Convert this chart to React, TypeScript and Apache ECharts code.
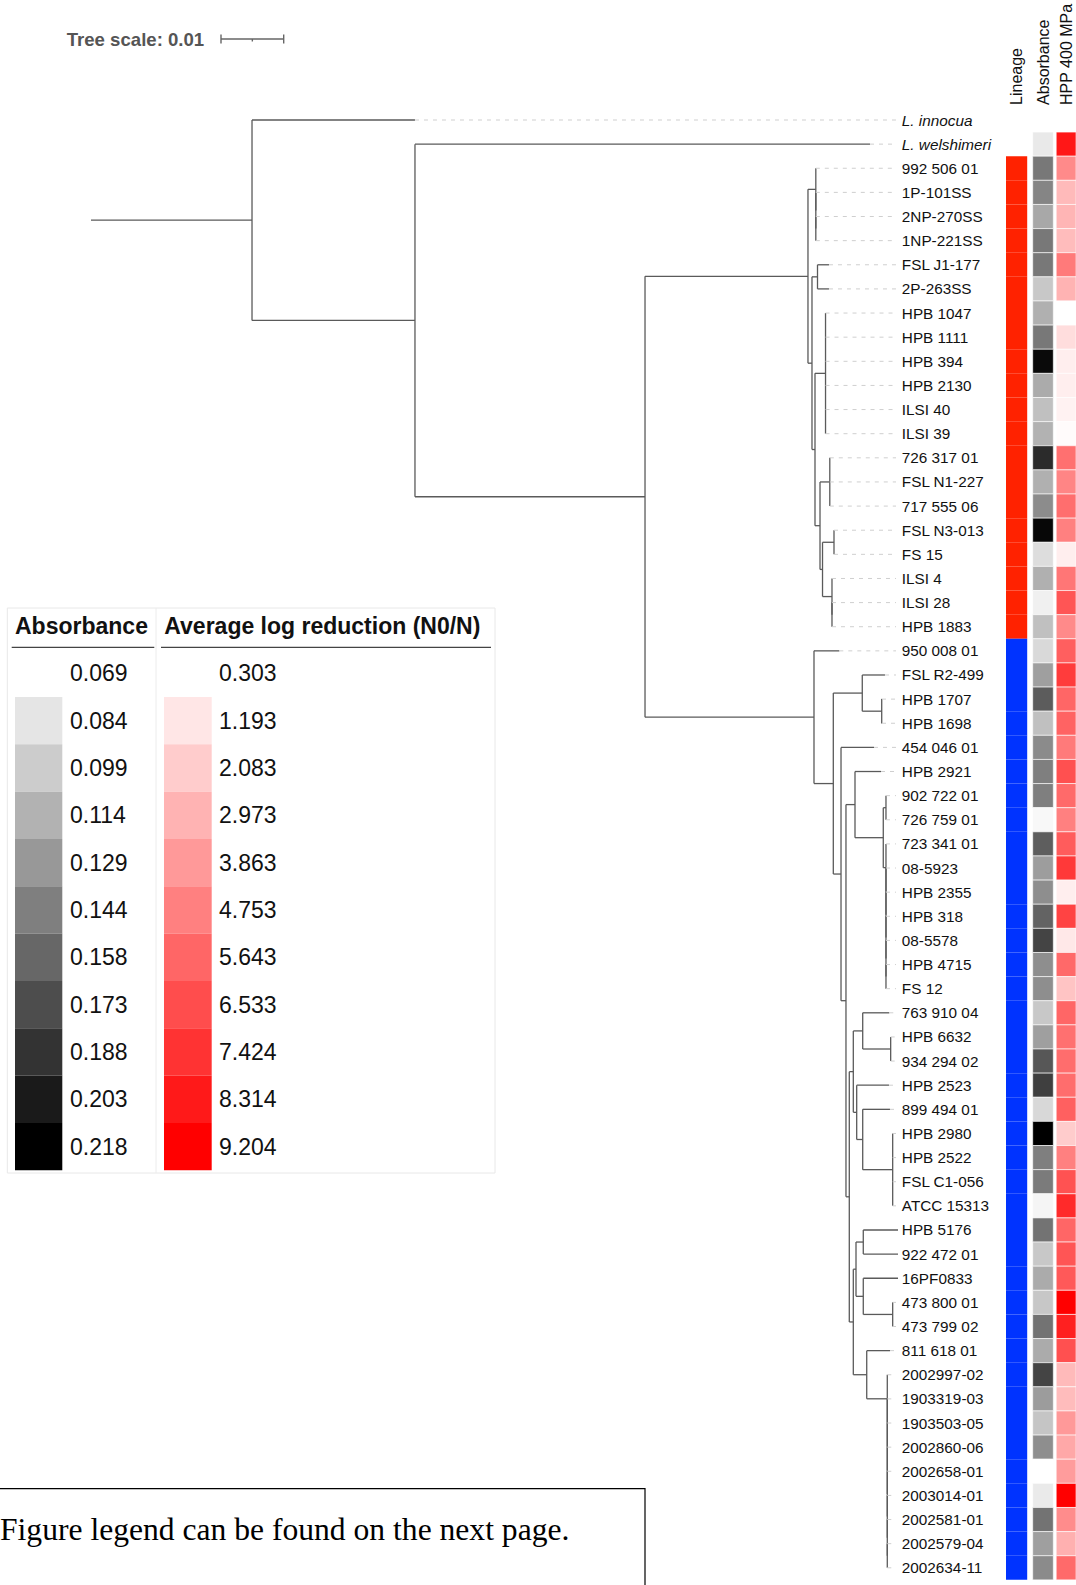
import React, { useEffect, useRef } from "react";
import * as echarts from "echarts";

const FONT = '"Liberation Sans", Arial, sans-serif';
const SERIF = '"Liberation Serif", "Times New Roman", serif';

// ---------- DATA ----------
const leafNames = [
  "L. innocua", "L. welshimeri", "992 506 01", "1P-101SS", "2NP-270SS", "1NP-221SS",
  "FSL J1-177", "2P-263SS", "HPB 1047", "HPB 1111", "HPB 394", "HPB 2130", "ILSI 40",
  "ILSI 39", "726 317 01", "FSL N1-227", "717 555 06", "FSL N3-013", "FS 15", "ILSI 4",
  "ILSI 28", "HPB 1883", "950 008 01", "FSL R2-499", "HPB 1707", "HPB 1698", "454 046 01",
  "HPB 2921", "902 722 01", "726 759 01", "723 341 01", "08-5923", "HPB 2355", "HPB 318",
  "08-5578", "HPB 4715", "FS 12", "763 910 04", "HPB 6632", "934 294 02", "HPB 2523",
  "899 494 01", "HPB 2980", "HPB 2522", "FSL C1-056", "ATCC 15313", "HPB 5176",
  "922 472 01", "16PF0833", "473 800 01", "473 799 02", "811 618 01", "2002997-02",
  "1903319-03", "1903503-05", "2002860-06", "2002658-01", "2003014-01", "2002581-01",
  "2002579-04", "2002634-11",
];
const italicLeaves = ["L. innocua", "L. welshimeri"];

const lineage = [
  "", "", "I", "I", "I", "I", "I", "I", "I", "I",                 // rows 0-9
  "I", "I", "I", "I", "I", "I", "I", "I", "I", "I",               // rows 10-19
  "I", "I", "II", "II", "II", "II", "II", "II", "II", "II",       // rows 20-29
  "II", "II", "II", "II", "II", "II", "II", "II", "II", "II",     // rows 30-39
  "II", "II", "II", "II", "II", "II", "II", "II", "II", "II",     // rows 40-49
  "II", "II", "II", "II", "II", "II", "II", "II", "II", "II",     // rows 50-59
  "II",                                                             // row 60
];
const lineageNames = ["I", "II"];
const lineageColors = ["#ff2200", "#0033ff"];

const absorbance = [
  null, 0.082, 0.148, 0.140, 0.120, 0.148, 0.148, 0.101, 0.115, 0.148, 0.212, 0.118, 0.106,
  0.114, 0.193, 0.115, 0.136, 0.214, 0.089, 0.115, 0.078, 0.106, 0.091, 0.125, 0.164, 0.106,
  0.137, 0.144, 0.144, 0.073, 0.163, 0.126, 0.135, 0.160, 0.178, 0.135, 0.135, 0.101, 0.125,
  0.167, 0.181, 0.092, 0.218, 0.144, 0.146, 0.075, 0.151, 0.101, 0.118, 0.102, 0.151, 0.118,
  0.178, 0.127, 0.103, 0.135, 0.069, 0.081, 0.151, 0.125, 0.137,
];
const hpp400 = [
  null, 8.4, 4.4, 2.7, 2.9, 2.65, 4.95, 2.95, 0.303, 1.5, 0.9, 0.9, 0.75, 0.45, 5.3, 4.55,
  5.35, 4.75, 0.9, 5.1, 6.25, 4.4, 5.9, 7.1, 5.65, 5.75, 4.95, 6.4, 5.5, 4.75, 6.0, 7.2, 0.9,
  6.85, 1.1, 5.55, 2.35, 5.65, 5.3, 5.4, 5.4, 5.85, 2.1, 4.75, 6.35, 7.75, 5.65, 6.25, 6.1,
  9.2, 8.1, 6.4, 2.7, 2.65, 3.85, 3.35, 3.75, 9.2, 4.3, 3.05, 5.5,
];

const absLegend = [0.069, 0.084, 0.099, 0.114, 0.129, 0.144, 0.158, 0.173, 0.188, 0.203, 0.218];
const hppLegend = [0.303, 1.193, 2.083, 2.973, 3.863, 4.753, 5.643, 6.533, 7.424, 8.314, 9.204];
const heatColumns = ["Lineage", "Absorbance", "HPP 400 MPa"];
const treeScaleValue = 0.01;

// Tree: a number is a tip (its depth from the root); [depth, children] is an internal node.
type TNode = number | [number, TNode[]];
const ladder = (d: number, n: number): TNode =>
  n === 2 ? [d, [d, d]] : [d, [d, ladder(d, n - 1)]];
const flat = (d: number, n: number): TNode => [d, new Array(n).fill(d)];

const tree: TNode = [0.02568, [
  0.05167,
  [0.05167, [
    0.12424,
    [0.08836, [
      [0.11435, [
        ladder(0.1156, 4),
        [0.11499, [
          [0.11587, [0.1177, 0.1177]],
          [0.11547, [
            flat(0.11715, 6),
            [0.11627, [
              flat(0.11783, 3),
              [0.11667, [
                flat(0.1185, 2),
                ladder(0.11818, 3),
              ]],
            ]],
          ]],
        ]],
      ]],
      [0.11531, [
        0.11935,
        [0.11839, [
          [0.12301, [0.12663, [0.12611, [0.12616, 0.12616]]]],
          [0.11962, [
            0.12488,
            [0.12041, [
              [0.12185, [
                0.126,
                [0.12636, [
                  flat(0.12679, 2),
                  ladder(0.12679, 7),
                ]],
              ]],
              [0.12094, [
                [0.12158, [
                  [0.12308, [0.12732, flat(0.12754, 2)]],
                  [0.12212, [
                    0.12727,
                    [0.12308, [0.12743, flat(0.12786, 4)]],
                  ]],
                ]],
                [0.12158, [
                  [0.12201, [
                    [0.12317, [0.12871, 0.12871]],
                    [0.12317, [0.12871, flat(0.12786, 2)]],
                  ]],
                  [0.12372, [
                    0.12743,
                    ladder(0.127, 9),
                  ]],
                ]],
              ]],
            ]],
          ]],
        ]],
      ]],
    ]],
  ]],
]];

// ---------- LAYOUT CONSTANTS ----------
const TREE_LEFT = 91;
const X_MAX = 0.129;
const PX_PER_UNIT = 6270;
const DASH_END = 0.12839;
const GRID_TOP = 107.935;
const GRID_H = 1471.93;
const HEAT_GRIDS = [
  { left: 1006, width: 21.2 },
  { left: 1032.7, width: 20.6 },
  { left: 1056.2, width: 19.8 },
];

function buildSegments() {
  const segs: number[][] = [];
  const tips: { d: number; y: number }[] = [];
  let leaf = 0;
  const walk = (n: TNode): { d: number; y: number } => {
    if (typeof n === "number") {
      const r = { d: n, y: leaf++ };
      tips.push(r);
      return r;
    }
    const [d, kids] = n;
    const res = kids.map(walk);
    const y0 = res[0].y;
    const y1 = res[res.length - 1].y;
    segs.push([d, y0, d, y1, 0]);
    res.forEach((r) => segs.push([d, r.y, r.d, r.y, 0]));
    return { d, y: (y0 + y1) / 2 };
  };
  const root = walk(tree);
  segs.push([0, root.y, root.d, root.y, 0]);
  tips.forEach((t) => {
    if (t.d < DASH_END - 0.00005) segs.push([t.d, t.y, DASH_END, t.y, 1]);
  });
  return segs;
}

function lerp(t: number, c0: number[], c1: number[]) {
  const k = Math.max(0, Math.min(1, t));
  const c = c0.map((v, i) => Math.round(v + (c1[i] - v) * k));
  return `rgb(${c[0]},${c[1]},${c[2]})`;
}

function buildGraphics() {
  const g: any[] = [];
  const txt = (x: number, y: number, text: string, font: string, fill = "#111", align = "left", rotation = 0) => ({
    type: "text",
    x,
    y,
    rotation,
    silent: true,
    style: { text, font, fill, textAlign: align, textVerticalAlign: "middle", align, verticalAlign: "middle" },
  });
  // tree scale
  g.push(txt(66.7, 39, `Tree scale: ${treeScaleValue}`, `bold 18.6px ${FONT}`, "#555"));
  const bx = 221;
  const blen = treeScaleValue * PX_PER_UNIT;
  const ls = { stroke: "#666", lineWidth: 1.4 };
  g.push({ type: "line", silent: true, shape: { x1: bx, y1: 39, x2: bx + blen, y2: 39 }, style: ls });
  g.push({ type: "line", silent: true, shape: { x1: bx, y1: 34.5, x2: bx, y2: 43.5 }, style: ls });
  g.push({ type: "line", silent: true, shape: { x1: bx + blen, y1: 34.5, x2: bx + blen, y2: 43.5 }, style: ls });
  g.push({ type: "line", silent: true, shape: { x1: bx + blen / 2, y1: 39, x2: bx + blen / 2, y2: 41.5 }, style: ls });

  // column headers (rotated, reading bottom-to-top)
  HEAT_GRIDS.forEach((hg, k) => {
    g.push(txt(hg.left + hg.width / 2, GRID_TOP - 3, heatColumns[k], `16px ${FONT}`, "#111", "left", Math.PI / 2));
  });

  // legend table
  const L = { x: 7.3, y: 608, w: 487.7, h: 565, div: 156, head: 626, line: 647.3, row0: 673.3, rowH: 47.33 };
  g.push({ type: "rect", silent: true, shape: { x: L.x, y: L.y, width: L.w, height: L.h }, style: { fill: "#fff", stroke: "#e8e8e8", lineWidth: 1 } });
  g.push({ type: "line", silent: true, shape: { x1: L.div, y1: L.y, x2: L.div, y2: L.y + L.h }, style: { stroke: "#ececec", lineWidth: 1 } });
  g.push(txt(15, L.head, "Absorbance", `bold 23px ${FONT}`));
  g.push(txt(164.3, L.head, "Average log reduction (N0/N)", `bold 23px ${FONT}`));
  g.push({ type: "line", silent: true, shape: { x1: 11.7, y1: L.line, x2: 154.3, y2: L.line }, style: { stroke: "#444", lineWidth: 1.2 } });
  g.push({ type: "line", silent: true, shape: { x1: 161, y1: L.line, x2: 491, y2: L.line }, style: { stroke: "#444", lineWidth: 1.2 } });
  const aMin = absLegend[0], aMax = absLegend[absLegend.length - 1];
  const hMin = hppLegend[0], hMax = hppLegend[hppLegend.length - 1];
  absLegend.forEach((v, k) => {
    const cy = L.row0 + k * L.rowH;
    g.push({ type: "rect", silent: true, shape: { x: 15, y: cy - L.rowH / 2, width: 47.3, height: L.rowH }, style: { fill: lerp((v - aMin) / (aMax - aMin), [255, 255, 255], [0, 0, 0]) } });
    g.push(txt(70, cy, v.toFixed(3), `23px ${FONT}`));
  });
  hppLegend.forEach((v, k) => {
    const cy = L.row0 + k * L.rowH;
    g.push({ type: "rect", silent: true, shape: { x: 164, y: cy - L.rowH / 2, width: 47.7, height: L.rowH }, style: { fill: lerp((v - hMin) / (hMax - hMin), [255, 255, 255], [255, 0, 0]) } });
    g.push(txt(219, cy, v.toFixed(3), `23px ${FONT}`));
  });

  // page note box
  g.push({ type: "rect", silent: true, shape: { x: -2, y: 1488.7, width: 647, height: 140 }, style: { fill: "none", stroke: "#000", lineWidth: 1.2 } });
  g.push(txt(0, 1529, "Figure legend can be found on the next page.", `31.6px ${SERIF}`, "#000"));
  return g;
}

function heatGrid(k: number) {
  return { left: HEAT_GRIDS[k].left, width: HEAT_GRIDS[k].width, top: GRID_TOP, height: GRID_H, containLabel: false, outerBoundsMode: "none" };
}

export default function App() {
  const ref = useRef<HTMLDivElement>(null);
  useEffect(() => {
    document.body.style.margin = "0";
    const chart = echarts.init(ref.current!, null, { renderer: "svg" });
    const segs = buildSegments();
    const rowsAxis = (gridIndex: number) => ({
      type: "category", gridIndex, data: leafNames, inverse: true, show: false,
    });
    const colAxis = (gridIndex: number, k: number) => ({
      type: "category",
      gridIndex,
      data: [heatColumns[k]],
      position: "top",
      show: false,
    });
    const cellRender = (stroke: boolean, colorOf?: (api: any) => string) => (params: any, api: any) => {
      const c = api.coord([api.value(0), api.value(1)]);
      const s = api.size([1, 1]);
      return {
        type: "rect",
        shape: { x: c[0] - s[0] / 2, y: c[1] - s[1] / 2, width: s[0], height: s[1] },
        style: {
          fill: colorOf ? colorOf(api) : api.visual("color"),
          stroke: stroke ? "#ffffff" : null,
          lineWidth: stroke ? 0.6 : 0,
        },
      };
    };
    const option: any = {
      animation: false,
      backgroundColor: "#ffffff",
      grid: [
        { left: TREE_LEFT, top: GRID_TOP, width: X_MAX * PX_PER_UNIT, height: GRID_H, containLabel: false, outerBoundsMode: "none" },
        heatGrid(0),
        heatGrid(1),
        heatGrid(2),
      ],
      xAxis: [
        { type: "value", gridIndex: 0, min: 0, max: X_MAX, show: false },
        colAxis(1, 0),
        colAxis(2, 1),
        colAxis(3, 2),
      ],
      yAxis: [
        { type: "value", gridIndex: 0, min: -0.5, max: leafNames.length - 0.5, inverse: true, show: false },
        {
          type: "category",
          gridIndex: 0,
          data: leafNames,
          inverse: true,
          position: "right",
          axisLine: { show: false },
          axisTick: { show: false },
          splitLine: { show: false },
          axisLabel: {
            interval: 0,
            margin: 2,
            fontSize: 15.3,
            fontFamily: FONT,
            color: "#111",
            formatter: (v: string) => (italicLeaves.includes(v) ? `{it|${v}}` : v),
            rich: { it: { fontStyle: "italic", fontSize: 15.3, fontFamily: FONT, color: "#111" } },
          },
        },
        rowsAxis(1),
        rowsAxis(2),
        rowsAxis(3),
      ],
      visualMap: [
        { type: "continuous", show: false, seriesIndex: 2, dimension: 2, min: absLegend[0], max: absLegend[absLegend.length - 1], inRange: { color: ["#ffffff", "#000000"] } },
        { type: "continuous", show: false, seriesIndex: 3, dimension: 2, min: hppLegend[0], max: hppLegend[hppLegend.length - 1], inRange: { color: ["#ffffff", "#ff0000"] } },
      ],
      series: [
        {
          type: "custom",
          name: "tree",
          xAxisIndex: 0,
          yAxisIndex: 0,
          silent: true,
          clip: false,
          data: segs,
          encode: { x: [0, 2], y: [1, 3] },
          renderItem: (params: any, api: any) => {
            const p1 = api.coord([api.value(0), api.value(1)]);
            const p2 = api.coord([api.value(2), api.value(3)]);
            const dashed = api.value(4) === 1;
            return {
              type: "line",
              shape: { x1: p1[0], y1: p1[1], x2: p2[0], y2: p2[1] },
              style: dashed
                ? { stroke: "#cfcfcf", lineWidth: 1, lineDash: [4, 5] }
                : { stroke: "#5a5a5a", lineWidth: 1.3 },
            };
          },
        },
        {
          type: "custom",
          name: "Lineage",
          xAxisIndex: 1,
          yAxisIndex: 2,
          silent: true,
          data: lineage.map((l, i) => (l ? [0, i, lineageNames.indexOf(l)] : null)).filter(Boolean),
          renderItem: cellRender(false, (api) => lineageColors[api.value(2)]),
        },
        {
          type: "custom",
          name: "Absorbance",
          xAxisIndex: 2,
          yAxisIndex: 3,
          silent: true,
          data: absorbance.map((v, i) => (v == null ? null : [0, i, v])).filter(Boolean),
          renderItem: cellRender(true),
        },
        {
          type: "custom",
          name: "HPP 400 MPa",
          xAxisIndex: 3,
          yAxisIndex: 4,
          silent: true,
          data: hpp400.map((v, i) => (v == null ? null : [0, i, v])).filter(Boolean),
          renderItem: cellRender(true),
        },
      ],
      graphic: { elements: buildGraphics() },
    };
    chart.setOption(option);
    return () => chart.dispose();
  }, []);
  return <div ref={ref} style={{ width: 1076, height: 1585, overflow: "hidden" }} />;
}
